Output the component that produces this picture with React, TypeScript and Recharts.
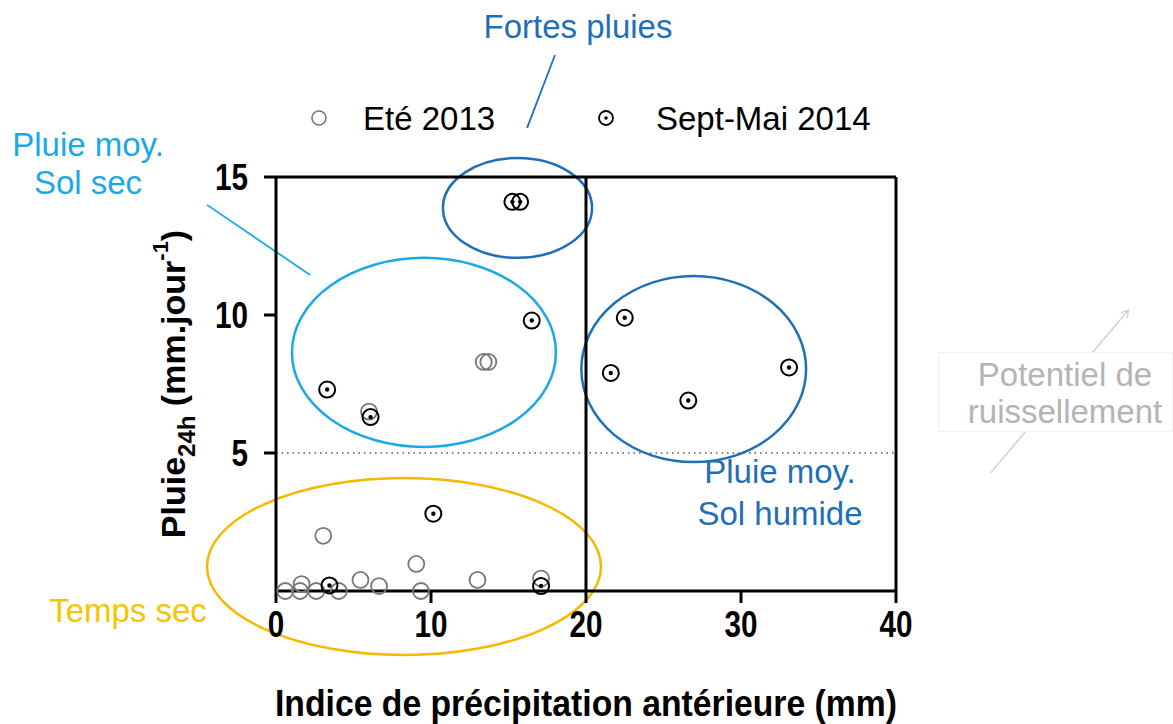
import { ScatterChart, Scatter, XAxis, YAxis, ReferenceLine, ReferenceArea } from 'recharts';

const xTicks = [0, 10, 20, 30, 40];
const yTicks = [5, 10, 15];

// Eté 2013 : indice (mm), pluie 24h (mm/jour)
const eteX = [0.6, 1.55, 1.65, 2.6, 3.05, 4.05, 5.45, 6.65, 9.05, 9.35, 13.0, 17.1, 6.0, 13.4, 13.7];
const eteY = [0, 0, 0.25, 0, 2.0, 0, 0.4, 0.18, 0.98, 0, 0.4, 0.45, 6.5, 8.3, 8.3];

// Sept-Mai 2014
const septX = [3.45, 10.15, 17.1, 3.3, 6.1, 16.5, 15.25, 15.75, 22.5, 21.6, 26.6, 33.1];
const septY = [0.2, 2.8, 0.18, 7.3, 6.3, 9.8, 14.1, 14.1, 9.9, 7.9, 6.9, 8.1];

// zones entourées (x1, x2, y1, y2 en unités du graphe)
const zoneNames = ['sec', 'moySec', 'fortes', 'moyHumide'];
const zoneX1 = [-4.45, 1.03, 10.77, 19.7];
const zoneX2 = [20.97, 18.06, 20.39, 34.2];
const zoneY1 = [-2.32, 5.22, 12.07, 4.67];
const zoneY2 = [4.09, 12.07, 15.69, 11.41];
const zoneColors = ['#f6b800', '#1aa9e6', '#1f6fb7', '#1f6fb7'];

const ete = eteX.map((x, i) => ({ x, y: eteY[i] }));
const sept = septX.map((x, i) => ({ x, y: septY[i] }));

const FONT = '"Liberation Sans", Arial, sans-serif';

const EteShape = (p: any) => (
  <circle cx={p.cx} cy={p.cy} r={8} fill="none" stroke="#777" strokeWidth={1.8} />
);

const SeptShape = (p: any) => (
  <g>
    <circle cx={p.cx} cy={p.cy} r={8} fill="none" stroke="#000" strokeWidth={2} />
    <circle cx={p.cx} cy={p.cy} r={2.2} fill="#000" />
  </g>
);

const ellipseShape = (color: string) => (p: any) => (
  <ellipse
    cx={p.x + p.width / 2}
    cy={p.y + p.height / 2}
    rx={Math.abs(p.width) / 2}
    ry={Math.abs(p.height) / 2}
    fill="none"
    stroke={color}
    strokeWidth={2.5}
  />
);

// chiffres gras un peu condensés, comme dans l'original
const NarrowTick = (props: any) => {
  const { x, y, payload, textAnchor } = props;
  const s = String(payload.value);
  return (
    <text
      x={x}
      y={y}
      textAnchor={textAnchor}
      dominantBaseline="central"
      fontFamily={FONT}
      fontWeight="bold"
      fontSize={36}
      fill="#000"
      textLength={s.length * 16.5}
      lengthAdjust="spacingAndGlyphs"
    >
      {s}
    </text>
  );
};

const XTitle = (props: any) => {
  const vb = props.viewBox;
  return (
    <text
      x={vb.x + vb.width / 2}
      y={vb.y + 112}
      textAnchor="middle"
      dominantBaseline="central"
      fontFamily={FONT}
      fontWeight="bold"
      fontSize={37}
      fill="#000"
      textLength={622}
      lengthAdjust="spacingAndGlyphs"
    >
      Indice de précipitation antérieure (mm)
    </text>
  );
};

const YLabel = (props: any) => {
  const vb = props.viewBox;
  const cx = vb.x - 43;
  const cy = vb.y + vb.height / 2;
  return (
    <text
      x={cx}
      y={cy}
      transform={`rotate(-90, ${cx}, ${cy})`}
      textAnchor="middle"
      dominantBaseline="central"
      fontFamily={FONT}
      fontWeight="bold"
      fontSize={34}
      fill="#000"
    >
      Pluie
      <tspan baselineShift="sub" fontSize={24}>24h</tspan>
      <tspan> (mm.jour</tspan>
      <tspan baselineShift="super" fontSize={22}>-1</tspan>
      <tspan>)</tspan>
    </text>
  );
};

const arrowLine = (p: any) => (
  <g>
    <defs>
      <marker id="arr" markerWidth="10" markerHeight="10" refX="8" refY="5" orient="auto" markerUnits="userSpaceOnUse">
        <path d="M1,1 L8,5 L1,9" fill="none" stroke="#d2d2d2" strokeWidth={1.5} />
      </marker>
    </defs>
    <line x1={p.x1} y1={p.y1} x2={p.x2} y2={p.y2} stroke="#d2d2d2" strokeWidth={1.5} markerEnd="url(#arr)" />
  </g>
);

const note = (text: string, x: number, y: number, color: string, lh = 38): any => (
  <div
    style={{
      position: 'absolute',
      left: x,
      top: y,
      transform: 'translate(-50%, -50%)',
      whiteSpace: 'pre',
      textAlign: 'center',
      fontFamily: FONT,
      fontSize: 33,
      lineHeight: `${lh}px`,
      color,
    }}
  >
    {text}
  </div>
);

export default function App() {
  return (
    <div style={{ position: 'absolute', left: 0, top: 0, width: 1173, height: 724, background: '#fff', overflow: 'hidden' }}>
      <ScatterChart width={1173} height={724} margin={{ top: 177, right: 267, left: 216, bottom: 73 }}>
        <XAxis
          type="number"
          dataKey="x"
          domain={[0, 40]}
          ticks={xTicks}
          height={60}
          axisLine={{ stroke: '#000', strokeWidth: 3 }}
          tickLine={{ stroke: '#000', strokeWidth: 3 }}
          tickSize={12}
          tickMargin={21}
          tick={<NarrowTick />}
          label={<XTitle />}
        />
        <YAxis
          type="number"
          dataKey="y"
          domain={[0, 15]}
          ticks={yTicks}
          width={60}
          axisLine={{ stroke: '#000', strokeWidth: 3 }}
          tickLine={{ stroke: '#000', strokeWidth: 3 }}
          tickSize={12}
          tickMargin={16}
          tick={<NarrowTick />}
          label={<YLabel />}
        />
        <YAxis
          yAxisId="right"
          orientation="right"
          type="number"
          domain={[0, 15]}
          ticks={yTicks}
          width={10}
          axisLine={{ stroke: '#000', strokeWidth: 3 }}
          tickLine={{ stroke: '#000', strokeWidth: 3 }}
          tickSize={10}
          tickFormatter={() => ''}
        />
        <ReferenceLine y={15} stroke="#000" strokeWidth={3} />
        <ReferenceLine x={20} stroke="#000" strokeWidth={3} />
        <ReferenceLine y={5} stroke="#555" strokeWidth={1.5} strokeDasharray="1.5 4" />

        {zoneNames.map((n, i) => (
          <ReferenceArea
            key={n}
            x1={zoneX1[i]}
            x2={zoneX2[i]}
            y1={zoneY1[i]}
            y2={zoneY2[i]}
            ifOverflow="visible"
            shape={ellipseShape(zoneColors[i])}
          />
        ))}

        <ReferenceLine
          segment={[{ x: 16.2, y: 16.78 }, { x: 18.0, y: 19.42 }]}
          stroke="#1f6fb7"
          strokeWidth={1.8}
          ifOverflow="visible"
        />
        <ReferenceLine
          segment={[{ x: -4.45, y: 13.99 }, { x: 2.2, y: 11.45 }]}
          stroke="#1aa9e6"
          strokeWidth={1.8}
          ifOverflow="visible"
        />
        <ReferenceLine
          segment={[{ x: 46.1, y: 4.28 }, { x: 55.0, y: 10.18 }]}
          ifOverflow="visible"
          shape={arrowLine}
        />

        <Scatter name="Eté 2013" data={ete} shape={EteShape} isAnimationActive={false} />
        <Scatter name="Sept-Mai 2014" data={sept} shape={SeptShape} isAnimationActive={false} />
      </ScatterChart>

      {/* légende */}
      <svg style={{ position: 'absolute', left: 0, top: 0, pointerEvents: 'none' }} width={1173} height={724}>
        <circle cx={319} cy={118} r={7} fill="none" stroke="#777" strokeWidth={1.6} />
        <text x={363} y={130} fontFamily={FONT} fontSize={33} fill="#000">Eté 2013</text>
        <circle cx={606} cy={118} r={7} fill="none" stroke="#000" strokeWidth={1.8} />
        <circle cx={606} cy={118} r={1.8} fill="#000" />
        <text x={656} y={130} fontFamily={FONT} fontSize={33} fill="#000">Sept-Mai 2014</text>
      </svg>

      {note('Fortes pluies', 578, 27, '#1f6fb7')}
      {note('Pluie moy.\nSol sec', 88, 164, '#1aa9e6')}
      {note('Temps sec', 128, 611, '#f6c400')}
      {note('Pluie moy.\nSol humide', 780, 493, '#1f6fb7', 42)}
      <div
        style={{
          position: 'absolute',
          left: 938,
          top: 352,
          width: 235,
          height: 80,
          background: '#fff',
          border: '1px solid #f2f2f2',
          boxSizing: 'border-box',
        }}
      />
      {note('Potentiel de\nruissellement', 1065, 393, '#b4b4b4', 37)}
    </div>
  );
}
